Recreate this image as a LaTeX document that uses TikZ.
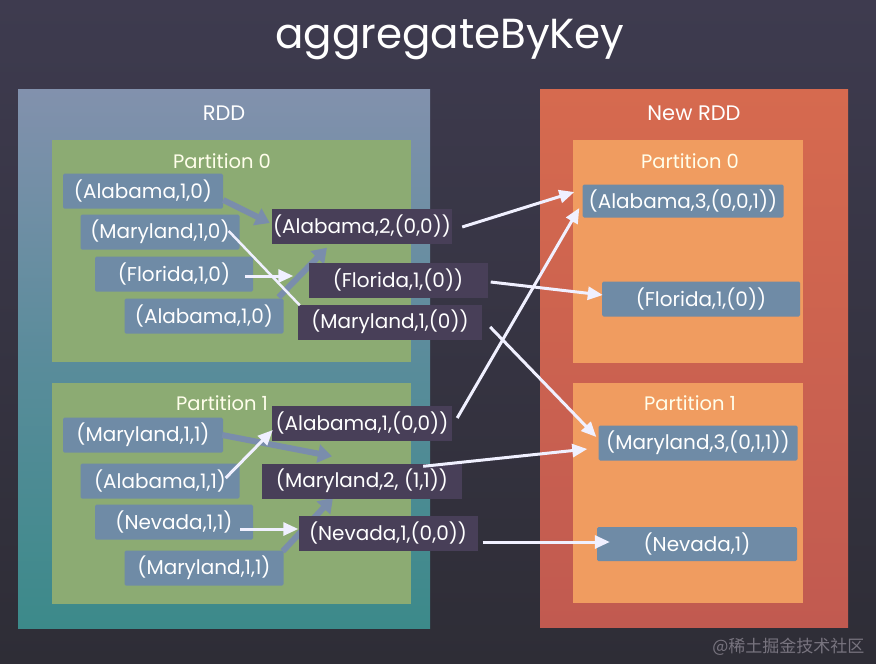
\documentclass[tikz,border=0pt]{standalone}
\usepackage{fontspec}
\setmainfont{Poppins}
\newfontfamily\cjk{Noto Sans CJK SC}
\usetikzlibrary{arrows.meta,calc}
\definecolor{bgtop}{HTML}{3E3B4F}
\definecolor{bgbot}{HTML}{2E2D36}
\definecolor{rddtop}{HTML}{8291AD}
\definecolor{rddmid}{HTML}{5A8C9B}
\definecolor{rddbot}{HTML}{3C8A8A}
\definecolor{newtop}{HTML}{D66A4F}
\definecolor{newbot}{HTML}{C15A50}
\definecolor{green}{HTML}{8CAB73}
\definecolor{orange}{HTML}{F09C60}
\definecolor{itemblue}{HTML}{6F8BA6}
\definecolor{darkitem}{HTML}{483F58}
\definecolor{bluearrow}{HTML}{7A8DAC}
\definecolor{wm}{HTML}{78747F}
\pgfdeclarelayer{back}
\pgfdeclarelayer{mid}
\pgfsetlayers{back,mid,main}
\begin{document}
\begin{tikzpicture}[x=1pt,y=-1pt,
  item/.style={fill=itemblue, text=white, font=\fontsize{20}{23}\selectfont, minimum height=35pt, inner sep=0pt, rounded corners=1.5pt},
  dark/.style={fill=darkitem, text=white, font=\fontsize{20}{23}\selectfont, minimum height=35pt, inner sep=0pt},
  part/.style={text=white!92!yellow, font=\fontsize{19.5}{22}\selectfont},
  rddlab/.style={text=white, font=\fontsize{21}{24}\selectfont},
  barrow/.style={draw=bluearrow, line width=6pt, -{Triangle[width=18pt,length=14pt]}},
  warrow/.style={draw=white!94!blue, line width=3pt, -{Triangle[width=13pt,length=15pt]}},
  wline/.style={draw=white!94!blue, line width=2.5pt}]
\useasboundingbox (0,0) rectangle (876,664);
\begin{pgfonlayer}{back}
\shade[top color=bgtop, bottom color=bgbot] (0,0) rectangle (876,664);
\shade[top color=rddtop, bottom color=rddbot, middle color=rddmid] (18,89) rectangle (430,628);
\shade[top color=newtop, bottom color=newbot] (540,89) rectangle (848,627);
\fill[green] (52,140) rectangle (411,362);
\fill[green] (52,383) rectangle (411,604);
\fill[orange] (573,140) rectangle (803,363);
\fill[orange] (573,383) rectangle (803,603);
\node[item, minimum width=160pt] (a0) at (143,191) {(Alabama,1,0)};
\node[item, minimum width=159pt] (m0) at (160,232) {(Maryland,1,0)};
\node[item, minimum width=158pt] (f0) at (174,274) {(Florida,1,0)};
\node[item, minimum width=159pt] (a0b) at (204,316) {(Alabama,1,0)};
\node[item, minimum width=160pt] (m1) at (143,435) {(Maryland,1,1)};
\node[item, minimum width=159pt] (a1) at (160,481) {(Alabama,1,1)};
\node[item, minimum width=158pt] (n1) at (174,522) {(Nevada,1,1)};
\node[item, minimum width=159pt] (m1b) at (204,568) {(Maryland,1,1)};
\end{pgfonlayer}
\node (title) at (450,40) [text=white, font=\fontsize{42}{46}\selectfont] {aggregateByKey};
\node[rddlab] (rdd) at (224,113) {RDD};
\node[rddlab] (newrdd) at (694,113) {New RDD};
\node[part] (p0) at (222,161) {Partition 0};
\node[part] (p1) at (222,403) {Partition 1};
\node[part] (np0) at (690,161) {Partition 0};
\node[part] (np1) at (690,403) {Partition 1};
% combined (dark) records
\node[dark, minimum width=180pt] (ag2) at (362,226) {(Alabama,2,(0,0))};
\node[dark, minimum width=179pt] (fl1) at (398,280) {(Florida,1,(0))};
\node[dark, minimum width=184pt] (md1) at (390,322) {(Maryland,1,(0))};
\node[dark, minimum width=180pt] (al1) at (362,423) {(Alabama,1,(0,0))};
\node[dark, minimum width=200pt] (md2) at (362,481) {(Maryland,2, (1,1))};
\node[dark, minimum width=179pt] (nv1) at (388,533) {(Nevada,1,(0,0))};
% result records
\node[item, minimum width=201pt, minimum height=33pt] (a3) at (683,201) {(Alabama,3,(0,0,1))};
\node[item, minimum width=198pt] (nf) at (701,299) {(Florida,1,(0))};
\node[item, minimum width=199pt] (md3) at (698,443) {(Maryland,3,(0,1,1))};
\node[item, minimum width=200pt, minimum height=34pt] (nv) at (697,544) {(Nevada,1)};
% local combine arrows (behind the dark boxes)
\begin{pgfonlayer}{mid}
\draw[barrow] ($(a0.east)+(0,9)$) -- ($(ag2.west)+(-2,-3)$);
\draw[barrow] ($(a0b.north east)+(-5,-1)$) -- ($(ag2.south)+(-35,4)$);
\draw[barrow] ($(m1.east)+(-1,0)$) -- ($(md2.north)+(-30,-7)$);
\draw[barrow] ($(m1b.north east)+(-1,1)$) -- ($(md2.south)+(-29,-1)$);
\end{pgfonlayer}
\draw[wline] ($(m0.east)+(-11,-1)$) -- ($(md1.north west)+(2,1)$);
\draw[warrow] ($(f0.east)+(-8,2)$) -- ($(fl1.west)+(-15,-4)$);
\draw[warrow] ($(a1.east)+(-14,-3)$) -- ($(al1.west)+(1,7)$);
\draw[warrow] ($(n1.east)+(-13,7)$) -- ($(nv1.west)+(0,-4)$);
% shuffle arrows
\draw[warrow] ($(ag2.east)+(10,1)$) -- ($(a3.west)+(-8,-9)$);
\draw[warrow] ($(fl1.east)+(3,2)$) -- ($(nf.west)+(1,-4)$);
\draw[warrow] ($(md1.east)+(8,5)$) -- ($(md3.west)+(-2,-6)$);
\draw[warrow] ($(al1.east)+(5,-5)$) -- ($(a3.west)+(-3,7)$);
\draw[warrow] ($(md2.north east)+(-39,3)$) -- ($(md3.west)+(-11,6)$);
\draw[warrow] ($(nv1.east)+(5,9)$) -- ($(nv.west)+(13,-2)$);
\node[anchor=east, text=wm, font=\cjk\fontsize{17}{20}\selectfont] (wmk) at (868,647) {@稀土掘金技术社区};
\end{tikzpicture}
\end{document}
